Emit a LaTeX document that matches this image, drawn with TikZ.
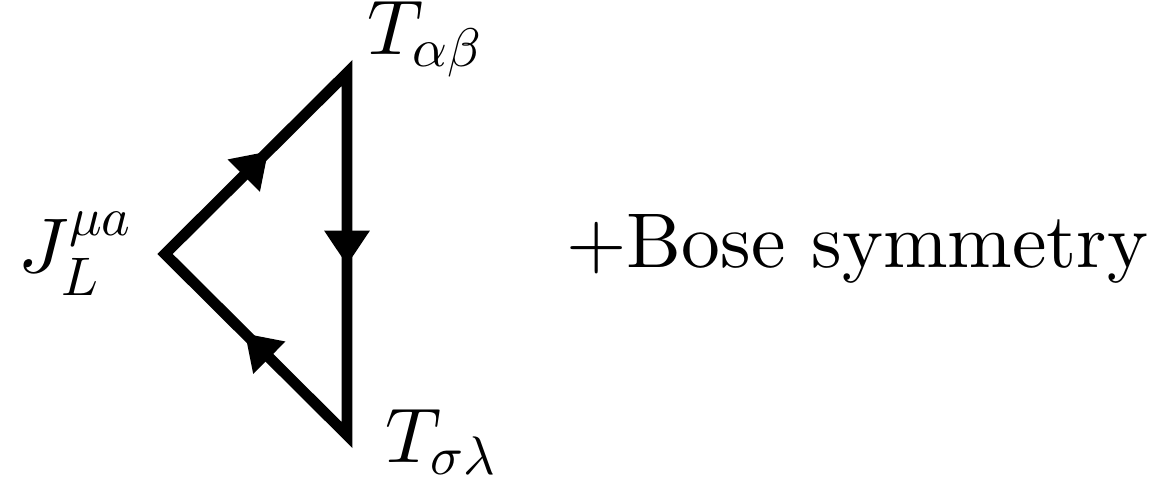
\documentclass[tikz,border=0pt]{standalone}
\usetikzlibrary{arrows.meta,decorations.markings}
\newcommand{\sm}[1]{\scalebox{0.7}{$#1$}}
\begin{document}
\begin{tikzpicture}[x=0.1289pt,y=-0.1289pt,
  edge/.style={line width=1.4pt, line join=miter},
  flow/.style={postaction={decorate}, decoration={markings,
    mark=at position #1 with {\arrow{Triangle[length=4.4pt,width=5.8pt]}}}},
  lab/.style={inner sep=0pt}]
\useasboundingbox (0,0) rectangle (1154,480);
\coordinate (J) at (165,254);
\coordinate (A) at (347,73);
\coordinate (S) at (347,435);
\draw[edge] (J) -- (A) -- (S) -- cycle;
\path[flow=0.566] (J) -- (A);
\path[flow=0.53] (A) -- (S);
\path[flow=0.56] (S) -- (J);
\node[lab, anchor=east] (jl) at (136,254) {$J_{\sm{L}}^{\sm{\mu a}}$};
\node[lab, anchor=base west] (tab) at (366,55) {$T_{\sm{\alpha\beta}}$};
\node[lab, anchor=base west] (tsl) at (384,463) {$T_{\sm{\sigma\lambda}}$};
\node[lab, anchor=base west] (bose) at (565,268) {+Bose symmetry};
\end{tikzpicture}
\end{document}
